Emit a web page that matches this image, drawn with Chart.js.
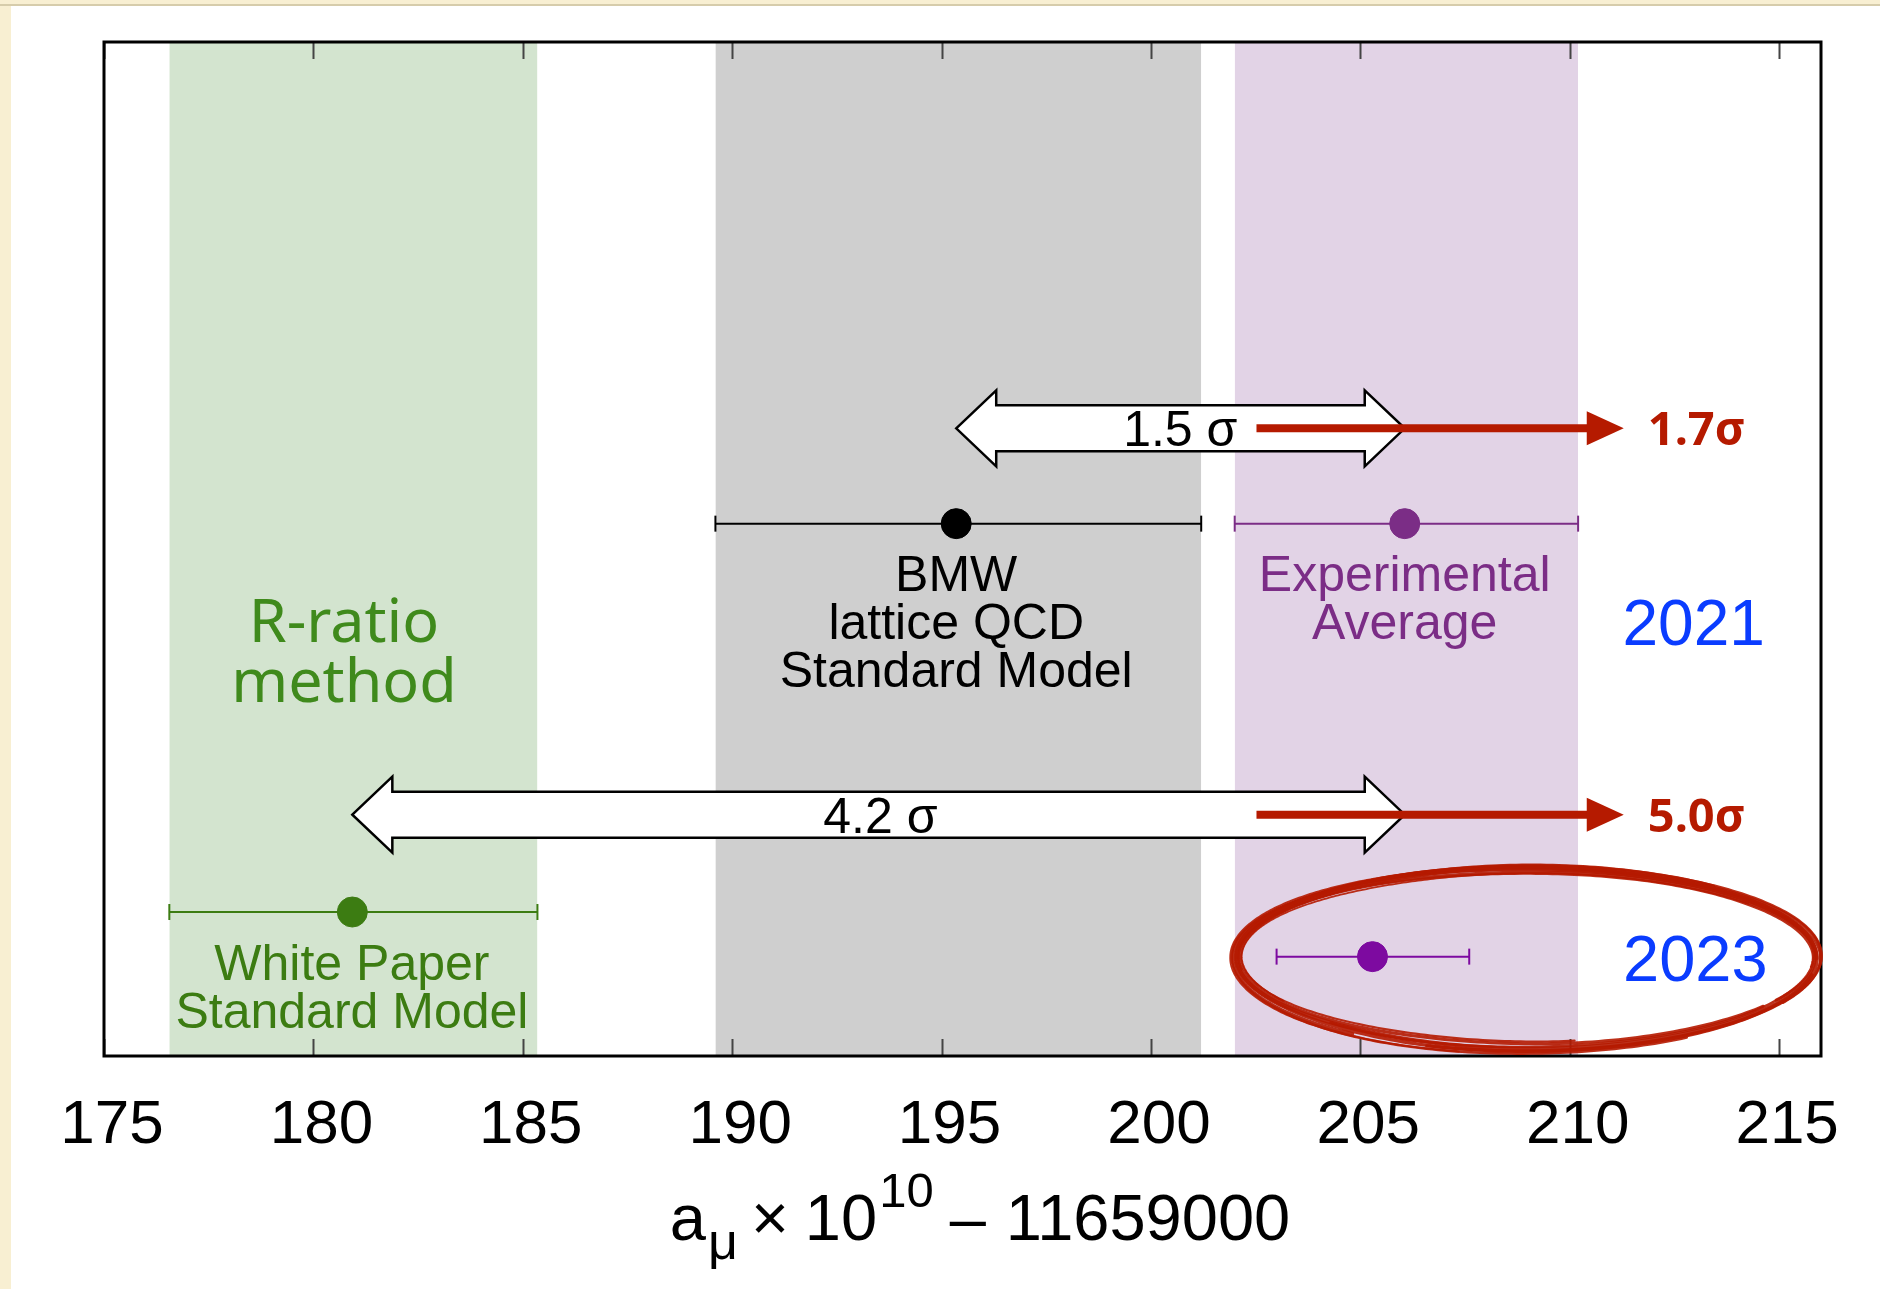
<!DOCTYPE html>
<html>
<head>
<meta charset="utf-8">
<script src="https://cdn.jsdelivr.net/npm/chart.js@4/dist/chart.umd.min.js"></script>
<style>
  html, body { margin: 0; padding: 0; background: #f8efd2; }
  canvas { display: block; }
</style>
</head>
<body>
<canvas id="chart" width="1880" height="1289"></canvas>
<script>
// x axis: a_mu x 10^10 - 11659000
const xMin = 175, xMax = 216;
const tickValues = [175, 180, 185, 190, 195, 200, 205, 210, 215];

// results: central value, error bar ends, row on a 0..100 vertical scale
const names   = ['White Paper SM', 'BMW lattice QCD', 'Exp. average 2021', 'Exp. average 2023'];
const central = [180.93, 195.35, 206.06, 205.29];
const errLow  = [176.56, 189.60, 202.00, 203.00];
const errHigh = [185.35, 201.20, 210.20, 207.60];
const rows    = [14.2, 52.5, 52.5, 9.8];

// shaded bands are the error ranges of the first three results
const bandIdx = [0, 1, 2];

// tension arrows between results (index into the arrays above)
const sigmaText = ['1.5 σ', '4.2 σ'];
const sigmaFrom = [1, 0];
const sigmaTo   = [2, 2];
const sigmaRows = [61.9, 23.8];
const sigmaAt   = [200.7, 193.54];

// red arrows: tension with the 2023 average
const shiftText = ['1.7σ', '5.0σ'];
const shiftFrom = [202.52, 202.52];
const shiftTo   = [211.29, 211.29];

// ---- styling ----
const SANS = '"Liberation Sans", Arial, Helvetica, sans-serif';
const ROUND = '"Noto Sans", Lato, sans-serif';
const pointColors = ['#3c7c12', '#000000', '#7b2d86', '#7d0aa0'];
const bandColors  = ['#d3e4cf', '#cfcfcf', '#e2d3e6'];
const RED = '#b51a00';
const BLUE = '#0a3cff';

// text notes placed in data coordinates
const notes = [
  { t: 'R-ratio', x: 180.73, y: 43.0, size: 61, fam: ROUND, c: '#3f8a1c' },
  { t: 'method',  x: 180.73, y: 37.1, size: 61, fam: ROUND, c: '#3f8a1c' },
  { t: 'BMW',            x: 195.35, y: 47.6, size: 50, fam: SANS, c: '#000' },
  { t: 'lattice QCD',    x: 195.35, y: 42.9, size: 50, fam: SANS, c: '#000' },
  { t: 'Standard Model', x: 195.35, y: 38.2, size: 50, fam: SANS, c: '#000' },
  { t: 'Experimental', x: 206.06, y: 47.6, size: 50, fam: SANS, c: '#7b2d86' },
  { t: 'Average',      x: 206.06, y: 42.9, size: 50, fam: SANS, c: '#7b2d86' },
  { t: '2021', x: 212.96, y: 42.8, size: 64, fam: SANS, c: BLUE },
  { t: 'White Paper',    x: 180.92, y: 9.3, size: 50, fam: SANS, c: '#3c7c12' },
  { t: 'Standard Model', x: 180.92, y: 4.55, size: 50, fam: SANS, c: '#3c7c12' },
  { t: '2023', x: 213.0, y: 9.7, size: 65, fam: SANS, c: BLUE }
];
const shiftLabelX = 213.03;
const ellipse = { x: 208.97, y: 9.76, rx: 6.93, ry: 8.7 };

const datasets = [];
bandIdx.forEach((i, k) => {
  datasets.push({
    type: 'line', label: 'band ' + names[i],
    data: [{ x: errLow[i], y: 100 }, { x: errHigh[i], y: 100 }],
    fill: 'start', backgroundColor: bandColors[k],
    borderWidth: 0, pointRadius: 0, order: 10
  });
});
names.forEach((n, i) => {
  datasets.push({
    type: 'scatter', label: n, showLine: true,
    data: [{ x: errLow[i], y: rows[i] }, { x: central[i], y: rows[i] }, { x: errHigh[i], y: rows[i] }],
    borderColor: pointColors[i], borderWidth: 2,
    pointStyle: ['line', 'circle', 'line'],
    rotation: [90, 0, 90],
    pointRadius: [8, 15, 8],
    pointBorderWidth: [2, 1, 2],
    pointBackgroundColor: pointColors[i],
    pointBorderColor: pointColors[i],
    order: 1
  });
});

function centerText(ctx, t, x, y, size, fam, color, weight) {
  ctx.font = `${weight || 'normal'} ${size}px ${fam}`;
  ctx.fillStyle = color;
  ctx.textAlign = 'center';
  ctx.textBaseline = 'alphabetic';
  ctx.fillText(t, x, y + size * 0.36);
}

const overlay = {
  id: 'overlay',
  beforeDraw(chart) {
    const { ctx, width, height } = chart;
    ctx.save();
    ctx.fillStyle = '#f8efd2';
    ctx.fillRect(0, 0, width, height);
    ctx.fillStyle = '#ffffff';
    ctx.fillRect(11, 6, width - 11, height - 6);
    ctx.fillStyle = '#d6ccab';
    ctx.fillRect(0, 4, width, 2);
    ctx.restore();
  },
  afterDatasetsDraw(chart) {
    const { ctx } = chart;
    const xs = chart.scales.x, ys = chart.scales.y;
    ctx.save();
    // hollow double arrows
    sigmaText.forEach((t, k) => {
      const x1 = xs.getPixelForValue(central[sigmaFrom[k]]);
      const x2 = xs.getPixelForValue(central[sigmaTo[k]]);
      const y = ys.getPixelForValue(sigmaRows[k]);
      const hl = 40, hh = 38, sh = 23;
      ctx.beginPath();
      ctx.moveTo(x1, y);
      ctx.lineTo(x1 + hl, y - hh);
      ctx.lineTo(x1 + hl, y - sh);
      ctx.lineTo(x2 - hl, y - sh);
      ctx.lineTo(x2 - hl, y - hh);
      ctx.lineTo(x2, y);
      ctx.lineTo(x2 - hl, y + hh);
      ctx.lineTo(x2 - hl, y + sh);
      ctx.lineTo(x1 + hl, y + sh);
      ctx.lineTo(x1 + hl, y + hh);
      ctx.closePath();
      ctx.fillStyle = '#fff';
      ctx.fill();
      ctx.lineWidth = 2.5;
      ctx.strokeStyle = '#000';
      ctx.lineJoin = 'miter';
      ctx.stroke();
      centerText(ctx, t, xs.getPixelForValue(sigmaAt[k]), y, 50, SANS, '#000');
    });
    // red arrows
    shiftText.forEach((t, k) => {
      const xa = xs.getPixelForValue(shiftFrom[k]);
      const xb = xs.getPixelForValue(shiftTo[k]);
      const y = ys.getPixelForValue(sigmaRows[k]);
      const hl = 37, hh = 17;
      ctx.strokeStyle = RED;
      ctx.fillStyle = RED;
      ctx.lineWidth = 8;
      ctx.beginPath();
      ctx.moveTo(xa, y);
      ctx.lineTo(xb - hl + 2, y);
      ctx.stroke();
      ctx.beginPath();
      ctx.moveTo(xb, y);
      ctx.lineTo(xb - hl, y - hh);
      ctx.lineTo(xb - hl, y + hh);
      ctx.closePath();
      ctx.fill();
      centerText(ctx, t, xs.getPixelForValue(shiftLabelX), y, 47, ROUND, RED, 'bold');
    });
    notes.forEach(n => {
      centerText(ctx, n.t, xs.getPixelForValue(n.x), ys.getPixelForValue(n.y), n.size, n.fam, n.c);
    });
    ctx.restore();
  },
  afterDraw(chart) {
    const { ctx, chartArea: a } = chart;
    const xs = chart.scales.x, ys = chart.scales.y;
    ctx.save();
    // inner tick marks top and bottom
    ctx.strokeStyle = '#444';
    ctx.lineWidth = 2;
    tickValues.forEach(v => {
      const px = Math.round(xs.getPixelForValue(v)) + 0.5;
      ctx.beginPath();
      ctx.moveTo(px, a.top); ctx.lineTo(px, a.top + 17);
      ctx.moveTo(px, a.bottom); ctx.lineTo(px, a.bottom - 17);
      ctx.stroke();
    });
    // frame
    ctx.strokeStyle = '#000';
    ctx.lineWidth = 3;
    ctx.strokeRect(a.left, a.top, a.right - a.left, a.bottom - a.top);

    // axis title: a_mu x 10^10 - 11659000
    const parts = [
      { t: 'a', s: 65, dy: 0, gap: 0 },
      { t: 'μ', s: 52, dy: 19, gap: 2 },
      { t: '×', s: 65, dy: 0, gap: 13 },
      { t: '10', s: 65, dy: 0, gap: 16 },
      { t: '10', s: 49, dy: -33, gap: 2 },
      { t: '–', s: 65, dy: 0, gap: 16 },
      { t: '11659000', s: 65, dy: 0, gap: 20 }
    ];
    let total = 0;
    parts.forEach(p => { ctx.font = `${p.s}px ${SANS}`; p.w = ctx.measureText(p.t).width; total += p.w + p.gap; });
    let x = 980 - total / 2;
    const base = 1240;
    ctx.fillStyle = '#000';
    ctx.textAlign = 'left';
    ctx.textBaseline = 'alphabetic';
    parts.forEach(p => {
      x += p.gap;
      ctx.font = `${p.s}px ${SANS}`;
      ctx.fillText(p.t, x, base + p.dy);
      x += p.w;
    });

    // hand drawn ellipse around the 2023 result: several rough strands
    const cx = xs.getPixelForValue(ellipse.x);
    const cy = ys.getPixelForValue(ellipse.y);
    const rx = xs.getPixelForValue(ellipse.x + ellipse.rx) - cx;
    const ry = ys.getPixelForValue(ellipse.y - ellipse.ry) - cy;
    const strands = [
      // radial offset, width, start angle, sweep, wobble phase
      [0, 4.0, 0.0, 6.30, 0.0], [-3, 3.0, 0.6, 6.20, 1.1], [3, 3.2, 2.2, 6.00, 2.3],
      [-5, 2.2, 1.4, 5.00, 0.7], [4.5, 2.6, 1.0, 5.40, 3.1], [-1.5, 2.6, 3.0, 5.60, 4.2],
      [1.5, 3.4, 0.2, 6.10, 5.0], [5.5, 1.8, 1.8, 3.60, 1.9], [-5.5, 1.8, 2.6, 3.00, 2.8],
      [2.5, 1.8, 4.4, 2.40, 0.4]
    ];
    ctx.strokeStyle = RED;
    ctx.lineCap = 'round';
    ctx.globalAlpha = 0.9;
    strands.forEach(s => {
      ctx.lineWidth = s[1];
      ctx.beginPath();
      const n = 260;
      for (let i = 0; i <= n; i++) {
        const t = s[2] + s[3] * i / n;
        const bottom = Math.max(0, Math.sin(t));
        const off = s[0] * (1 + 0.6 * bottom) + 1.2 * Math.sin(2 * t + s[4]) + 0.5 * Math.sin(5 * t + s[4]);
        const px = cx + (rx + off) * Math.cos(t);
        const py = cy + (ry + off * 0.8 + 3 * bottom) * Math.sin(t);
        if (i === 0) ctx.moveTo(px, py); else ctx.lineTo(px, py);
      }
      ctx.stroke();
    });
    ctx.restore();
  }
};

new Chart(document.getElementById('chart'), {
  type: 'scatter',
  data: { datasets },
  options: {
    responsive: false,
    devicePixelRatio: 1,
    animation: false,
    layout: { padding: { left: 104, right: 59, top: 42, bottom: 0 } },
    plugins: { legend: { display: false }, tooltip: { enabled: false } },
    scales: {
      x: {
        type: 'linear', min: xMin, max: xMax, position: 'bottom',
        afterBuildTicks: s => { s.ticks = tickValues.map(v => ({ value: v })); },
        afterFit: s => { s.height = 233; },
        grid: { display: false, drawTicks: false },
        border: { display: false },
        ticks: {
          font: { family: SANS, size: 62 }, color: '#000',
          padding: 33, labelOffset: 8, maxRotation: 0, autoSkip: false
        }
      },
      y: { type: 'linear', min: 0, max: 100, display: false }
    }
  },
  plugins: [overlay]
});
</script>
</body>
</html>
